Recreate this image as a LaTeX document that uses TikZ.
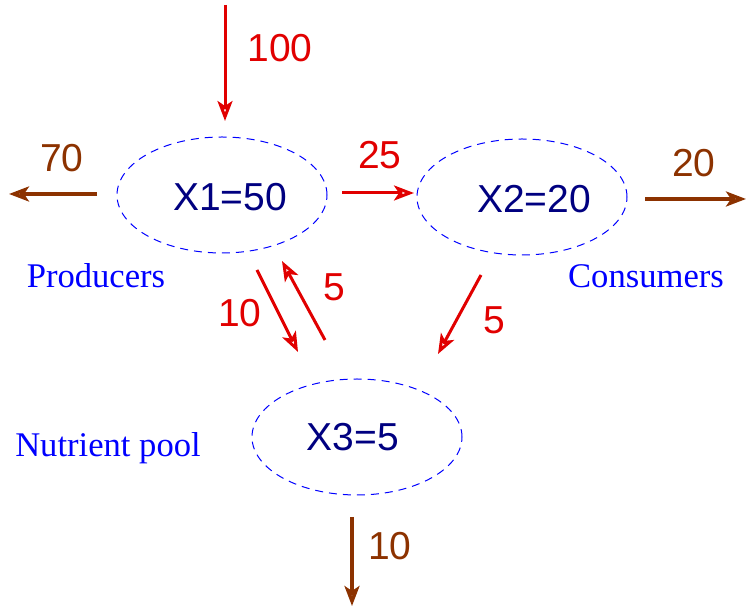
\documentclass[tikz,border=0pt]{standalone}
\usepackage{fontspec}
\setmainfont{Liberation Serif}
\setsansfont{Liberation Sans}
\usetikzlibrary{arrows.meta,shapes.geometric}

\definecolor{flowred}{RGB}{225,0,0}
\definecolor{flowbrown}{RGB}{140,50,0}
\definecolor{poolblue}{RGB}{0,0,128}

\tikzset{
  pool/.style={ellipse,draw=blue,dash pattern=on 4pt off 3pt,line width=0.5pt,
    minimum width=105pt,minimum height=58pt},
  poolname/.style={text=poolblue,font=\sffamily\fontsize{19.5}{22}\selectfont},
  flow/.style={draw=flowred,line width=1.5pt,-{Stealth[open,length=10pt,width=7.5pt,inset=2.5pt]}},
  loss/.style={flow,draw=flowbrown,line width=1.7pt},
  rate/.style={text=flowred,font=\sffamily\fontsize{19.5}{22}\selectfont},
  lossrate/.style={rate,text=flowbrown},
  compart/.style={text=blue,font=\fontsize{17.3}{20}\selectfont}
}

\begin{document}
\begin{tikzpicture}[x=0.5pt,y=-0.5pt]
  \useasboundingbox (0,0) rectangle (746,608);

  % compartments
  \node[pool] (x1) at (222,195) {};
  \node[pool] (x2) at (522,197) {};
  \node[pool] (x3) at (357,437) {};
  \node[poolname] (x1name) at (230,197) {X1=50};
  \node[poolname] (x2name) at (534,199) {X2=20};
  \node[poolname] (x3name) at (353,437) {X3=5};

  \node[compart] (prod) at (96,276) {Producers};
  \node[compart] (cons) at (646,276) {Consumers};
  \node[compart] (nutr) at (108,448) {Nutrient pool};

  % flow end points
  \coordinate (inA) at (225,5);
  \coordinate (inB) at (225,121);
  \coordinate (outA) at (97,194);
  \coordinate (outB) at (9,194);
  \coordinate (grazA) at (342,193);
  \coordinate (grazB) at (414,193);
  \coordinate (respA) at (645,199);
  \coordinate (respB) at (746,199);
  \coordinate (dieA) at (257,270);
  \coordinate (dieB) at (298,352);
  \coordinate (upA) at (325,340);
  \coordinate (upB) at (282,261);
  \coordinate (excA) at (481,275);
  \coordinate (excB) at (438,354);
  \coordinate (leachA) at (352,517);
  \coordinate (leachB) at (352,606);

  % flows
  \draw[flow] (inA) -- (inB);
  \draw[loss] (outA) -- (outB);
  \draw[flow] (grazA) -- (grazB);
  \draw[loss] (respA) -- (respB);
  \draw[flow] (dieA) -- (dieB);
  \draw[flow] (upA) -- (upB);
  \draw[flow] (excA) -- (excB);
  \draw[loss] (leachA) -- (leachB);

  % rates
  \node[rate] (rin) at (280,48) {100};
  \node[lossrate] (rout) at (62,158) {70};
  \node[rate] (rgraz) at (380,155) {25};
  \node[lossrate] (rresp) at (694,163) {20};
  \node[rate] (rdie) at (240,313) {10};
  \node[rate] (rup) at (334,287) {5};
  \node[rate] (rexc) at (494,320) {5};
  \node[lossrate] (rleach) at (390,546) {10};
\end{tikzpicture}
\end{document}
